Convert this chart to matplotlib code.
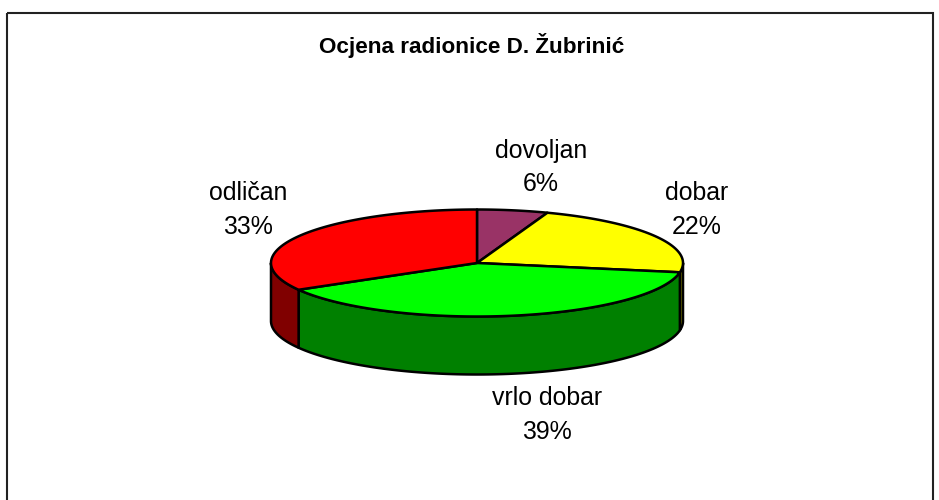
import numpy as np
import matplotlib
matplotlib.use("Agg")
import matplotlib.pyplot as plt
from matplotlib.patches import Polygon, Rectangle

plt.rcParams['font.family'] = ['Liberation Sans', 'DejaVu Sans']

labels = ["dovoljan", "dobar", "vrlo dobar", "odličan"]
# votes behind the percentages, they give the slice edges seen in the picture
votes = [1, 4, 7, 6]
top_colors = ["#993366", "#ffff00", "#00ff00", "#ff0000"]
side_colors = ["#4d1933", "#808000", "#008000", "#800000"]
label_pos = [(541, 167.5), (697, 210), (547, 415), (248, 210)]

cx, cy = 477, 263
rx, ry = 206, 53.5
depth = 58

fig = plt.figure(figsize=(9.39, 5.0), dpi=100)
ax = fig.add_axes([0, 0, 1, 1])
ax.set_xlim(0, 939)
ax.set_ylim(500, 0)
ax.axis("off")

ax.add_patch(Rectangle((6.5, 13), 926, 520, fill=False, ec="#222222", lw=1.5, clip_on=True))
ax.text(472, 46, "Ocjena radionice D. Žubrinić", ha="center", va="center",
        fontsize=16.2, fontweight="bold", color="black")


def rim(a0, a1):
    t = np.radians(np.linspace(a0, a1, max(int(abs(a1 - a0)) * 2, 2)))
    return cx + rx * np.sin(t), cy - ry * np.cos(t)


angles = np.cumsum([0] + votes) / sum(votes) * 360

# side walls, only the front half of the rim is visible
for i in range(len(votes)):
    a0, a1 = max(angles[i], 90), min(angles[i + 1], 270)
    if a1 <= a0:
        continue
    x, y = rim(a0, a1)
    pts = np.r_[np.c_[x, y], np.c_[x[::-1], y[::-1] + depth]]
    ax.add_patch(Polygon(pts, closed=True, fc=side_colors[i], ec="black", lw=1.8, joinstyle="round"))

# top faces
for i in range(len(votes)):
    x, y = rim(angles[i], angles[i + 1])
    pts = np.r_[[[cx, cy]], np.c_[x, y]]
    ax.add_patch(Polygon(pts, closed=True, fc=top_colors[i], ec="black", lw=1.8, joinstyle="round"))

for i in range(len(votes)):
    pct = round(votes[i] / sum(votes) * 100)
    ax.text(label_pos[i][0], label_pos[i][1], f"{labels[i]}\n{pct}%", ha="center", va="center",
            fontsize=17.9, linespacing=1.5, color="black")

fig.savefig("out.png", dpi=100, facecolor="white")
